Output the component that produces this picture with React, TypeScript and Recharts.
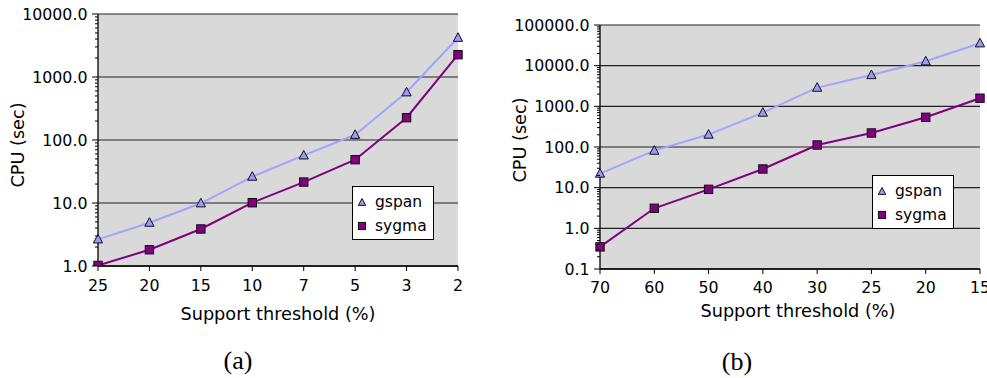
import React from 'react';
import { LineChart, Line, XAxis, YAxis, CartesianGrid, Legend, Label } from 'recharts';

const CATS_A = ['25', '20', '15', '10', '7', '5', '3', '2'];
const GSPAN_A = [2.65, 4.87, 9.9, 26.2, 57, 121, 572, 4200];
const SYGMA_A = [1.02, 1.81, 3.87, 10.1, 21.5, 48.7, 226, 2260];

const CATS_B = ['70', '60', '50', '40', '30', '25', '20', '15'];
const GSPAN_B = [22.2, 81.5, 202, 701, 2880, 5890, 12800, 35500];
const SYGMA_B = [0.35, 3.11, 9.1, 28.8, 112, 221, 537, 1585];

const MAJOR_A = [1, 10, 100, 1000, 10000];
const MAJOR_B = [0.1, 1, 10, 100, 1000, 10000, 100000];
const MINOR_STEPS = [2, 3, 4, 5, 6, 7, 8, 9];

const X_LABEL = 'Support threshold (%)';
const Y_LABEL = 'CPU (sec)';
const CAPTIONS = ['(a)', '(b)'];

const FONT = '"DejaVu Sans", sans-serif';
const TICK_FS = 15.8;
const LABEL_FS = 17.7;
const GSPAN_FILL = '#9999ff';
const GSPAN_LINE = '#a3a3ff';
const SYGMA_COLOR = '#800080';

const buildTicks = (majors: number[]) => {
  const out: number[] = [];
  majors.forEach((m, i) => {
    out.push(m);
    if (i < majors.length - 1) MINOR_STEPS.forEach((s) => out.push(m * s));
  });
  return out;
};

const Triangle = ({ cx, cy, size = 1 }: any) => (
  <polygon
    points={`${cx},${cy - 5 * size} ${cx - 4.6 * size},${cy + 3.6 * size} ${cx + 4.6 * size},${cy + 3.6 * size}`}
    fill={GSPAN_FILL}
    stroke="#111"
    strokeWidth={1}
  />
);

const Square = ({ cx, cy, size = 1 }: any) => (
  <rect x={cx - 4.2 * size} y={cy - 4.2 * size} width={8.4 * size} height={8.4 * size} fill={SYGMA_COLOR} stroke="#111" strokeWidth={1} />
);

const makeYTick = (majors: number[]) => (props: any) => {
  const { x, y, payload } = props;
  const isMajor = majors.some((m) => Math.abs(m - payload.value) < 1e-9);
  return (
    <g>
      <line x1={x - (isMajor ? 6 : 3)} x2={x} y1={y} y2={y} stroke="#000" strokeWidth={1} />
      {isMajor && (
        <text x={x - 10.5} y={y} textAnchor="end" dominantBaseline="central" fontSize={TICK_FS} fontFamily={FONT} fill="#000">
          {payload.value.toFixed(1)}
        </text>
      )}
    </g>
  );
};

const renderLegend = (props: any) => {
  const payload = props.payload || [];
  return (
    <div
      style={{
        border: '1px solid #000',
        background: '#fff',
        width: 82,
        height: 54,
        boxSizing: 'border-box',
        padding: '3px 0 0 3px',
        fontFamily: FONT,
        fontSize: 15.5,
        color: '#000',
      }}
    >
      {payload.map((e: any) => (
        <div key={e.value} style={{ display: 'flex', alignItems: 'center', height: 24 }}>
          <svg width={12} height={12}>
            {e.value === 'gspan' ? <Triangle cx={6} cy={6.5} size={0.8} /> : <Square cx={6} cy={6} size={0.85} />}
          </svg>
          <span style={{ marginLeft: 7 }}>{e.value}</span>
        </div>
      ))}
    </div>
  );
};

type PanelProps = {
  left: number;
  width: number;
  height: number;
  margin: { top: number; right: number; bottom: number; left: number };
  yAxisWidth: number;
  cats: string[];
  gspan: number[];
  sygma: number[];
  majors: number[];
  xTickMargin: number;
  xLabelDy: number;
  xLabelDx: number;
  yLabelX: number;
  yLabelDy: number;
  legendLeft: number;
  legendTop: number;
};

const Panel = (p: PanelProps) => {
  const data = p.cats.map((c, i) => ({ t: c, gspan: p.gspan[i], sygma: p.sygma[i] }));
  const ticks = buildTicks(p.majors);
  const domain = [p.majors[0], p.majors[p.majors.length - 1]];
  return (
    <div style={{ position: 'absolute', left: p.left, top: 0 }}>
      <LineChart width={p.width} height={p.height} data={data} margin={p.margin}>
        <CartesianGrid fill="#d9d9d9" stroke="#222" strokeWidth={1.1} vertical={false} horizontalValues={p.majors} />
        <XAxis
          dataKey="t"
          tickSize={5}
          tickMargin={p.xTickMargin}
          height={60}
          stroke="#000"
          axisLine={{ stroke: '#000', strokeWidth: 1.3 }}
          tickLine={{ stroke: '#000' }}
          tick={{ fill: '#000', fontSize: TICK_FS, fontFamily: FONT }}
          interval={0}
        >
          <Label
            content={(lp: any) => {
              const vb = lp.viewBox;
              return (
                <text
                  x={vb.x + vb.width / 2 + p.xLabelDx}
                  y={vb.y + p.xLabelDy}
                  textAnchor="middle"
                  dominantBaseline="central"
                  fontSize={LABEL_FS}
                  fontFamily={FONT}
                  fill="#000"
                >
                  {X_LABEL}
                </text>
              );
            }}
          />
        </XAxis>
        <YAxis
          type="number"
          scale="log"
          domain={domain}
          allowDataOverflow
          ticks={ticks}
          interval={0}
          width={p.yAxisWidth}
          tickSize={0}
          tickMargin={0}
          tickLine={false}
          axisLine={{ stroke: '#000', strokeWidth: 1.3 }}
          tick={makeYTick(p.majors)}
        >
          <Label
            content={(lp: any) => {
              const vb = lp.viewBox;
              const x = vb.x + p.yLabelX;
              const y = vb.y + vb.height / 2 + p.yLabelDy;
              return (
                <text
                  x={x}
                  y={y}
                  transform={`rotate(-90, ${x}, ${y})`}
                  textAnchor="middle"
                  dominantBaseline="central"
                  fontSize={LABEL_FS}
                  fontFamily={FONT}
                  fill="#000"
                >
                  {Y_LABEL}
                </text>
              );
            }}
          />
        </YAxis>
        <Legend
          layout="horizontal"
          verticalAlign="middle"
          align="center"
          content={renderLegend}
          wrapperStyle={{ left: p.legendLeft, top: p.legendTop, width: 82, height: 54, margin: 0 }}
        />
        <Line
          type="linear"
          dataKey="gspan"
          name="gspan"
          stroke={GSPAN_LINE}
          strokeWidth={2}
          isAnimationActive={false}
          activeDot={false}
          dot={(dp: any) => <Triangle key={`g${dp.index}`} cx={dp.cx} cy={dp.cy} />}
        />
        <Line
          type="linear"
          dataKey="sygma"
          name="sygma"
          stroke={SYGMA_COLOR}
          strokeWidth={2}
          isAnimationActive={false}
          activeDot={false}
          dot={(dp: any) => <Square key={`s${dp.index}`} cx={dp.cx} cy={dp.cy} />}
        />
      </LineChart>
    </div>
  );
};

const captionStyle = (cx: number, cy: number): React.CSSProperties => ({
  position: 'absolute',
  left: cx,
  top: cy,
  transform: 'translate(-50%, -50%)',
  fontFamily: '"Liberation Serif", serif',
  fontSize: 26,
  color: '#000',
  whiteSpace: 'nowrap',
});

export default function App() {
  return (
    <div style={{ position: 'absolute', left: 0, top: 0, width: 987, height: 378, background: '#fff', overflow: 'hidden' }}>
      <Panel
        left={0}
        width={480}
        height={340}
        margin={{ top: 14, right: 22, bottom: 14, left: 0 }}
        yAxisWidth={98}
        cats={CATS_A}
        gspan={GSPAN_A}
        sygma={SYGMA_A}
        majors={MAJOR_A}
        xTickMargin={9}
        xLabelDy={48}
        xLabelDx={0}
        yLabelX={18}
        yLabelDy={5}
        legendLeft={352}
        legendTop={186}
      />
      <Panel
        left={500}
        width={487}
        height={340}
        margin={{ top: 25, right: 7, bottom: 11, left: 0 }}
        yAxisWidth={100}
        cats={CATS_B}
        gspan={GSPAN_B}
        sygma={SYGMA_B}
        majors={MAJOR_B}
        xTickMargin={8}
        xLabelDy={42}
        xLabelDx={8}
        yLabelX={20}
        yLabelDy={-7}
        legendLeft={372}
        legendTop={175}
      />
      <div style={captionStyle(238, 361)}>{CAPTIONS[0]}</div>
      <div style={captionStyle(737, 362)}>{CAPTIONS[1]}</div>
    </div>
  );
}
